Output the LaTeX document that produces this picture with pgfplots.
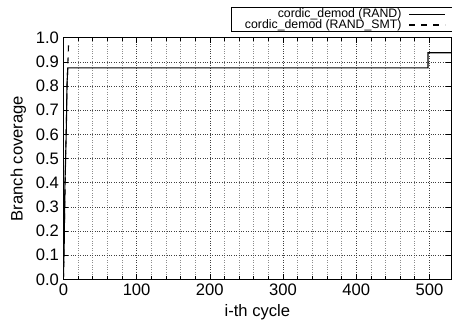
\documentclass[border=0pt]{standalone}
\usepackage{fontspec}
\setmainfont{Liberation Sans}
\usepackage{pgfplots}
\pgfplotsset{compat=1.18}
\begin{document}
\begin{tikzpicture}[x=1pt,y=1pt]
\begin{axis}[
  at={(63.4pt,42.7pt)}, anchor=south west,
  scale only axis, width=388pt, height=241.6pt,
  xmin=0, xmax=530, ymin=0, ymax=1,
  xtick={0,100,...,500},
  minor x tick num=4,
  ytick={0,0.1,...,1.0},
  yticklabel style={/pgf/number format/fixed, /pgf/number format/fixed zerofill, /pgf/number format/precision=1},
  /pgf/number format/assume math mode=true,
  tick label style={font=\fontsize{16.6}{18}\selectfont},
  label style={font=\fontsize{16.6}{18}\selectfont},
  xlabel={i-th cycle}, ylabel={Branch coverage},
  xlabel style={at={(rel axis cs:0.5,0)}, anchor=center, yshift=-32.5pt},
  ylabel style={at={(rel axis cs:0,0.5)}, anchor=center, rotate=0, yshift=45pt},
  yticklabel style={xshift=-1pt},
  xticklabel style={yshift=-1pt},
  tick align=inside, major tick length=5pt, minor tick length=3pt,
  tick style={black, line width=0.6pt},
  grid=both,
  major grid style={dotted, black!75, line width=0.6pt},
  minor grid style={dotted, black!45, line width=0.6pt},
  axis line style={black, line width=1pt},
  legend style={at={(rel axis cs:1,1)}, anchor=south east, yshift=5.4pt, xshift=8.6pt,
    draw=black, line width=0.8pt, inner xsep=14pt, inner ysep=1.5pt,
    font=\fontsize{12.3}{12.3}\selectfont,
    nodes={inner sep=0pt, text height=8.5pt, text depth=2.3pt},
    legend cell align=right, column sep=7pt},
  legend plot pos=right,
  legend image code/.code={\draw[#1] (0pt,0pt) -- (36pt,0pt);},
]
\addplot[black, line width=1.1pt, solid] coordinates {
 (0,0) (1,0.125) (2,0.375) (4,0.625) (5,0.8125) (6,0.875) (498,0.875) (498,0.9375) (530,0.9375)
};
\addlegendentry{cordic\_demod (RAND)}
\addplot[black, line width=1.1pt, dash pattern=on 6pt off 6pt] coordinates {
 (0,0) (3,0.5) (5,0.8) (7,0.97)
};
\addlegendentry{cordic\_demod (RAND\_SMT)}
\end{axis}
\pgfresetboundingbox
\path (0,0) rectangle (452pt,322pt);
\end{tikzpicture}
\end{document}
